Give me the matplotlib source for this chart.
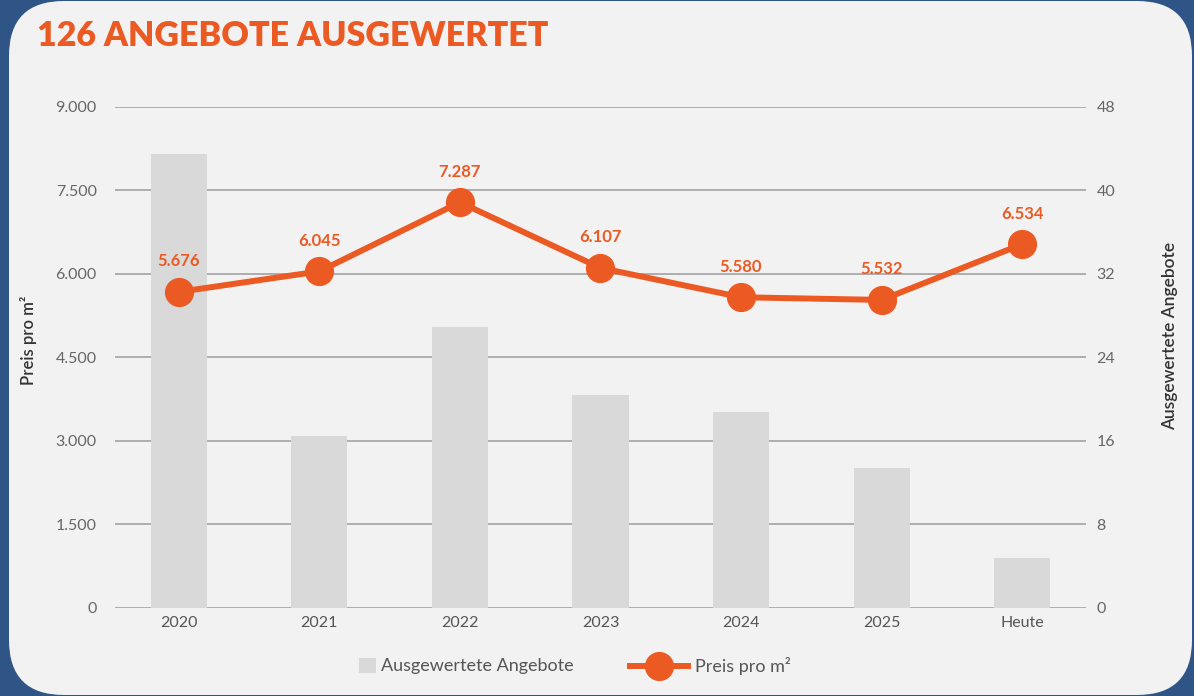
import matplotlib.pyplot as plt
import numpy as np
from matplotlib.patches import FancyBboxPatch, Patch
from matplotlib.lines import Line2D

# data
jahre = ["2020", "2021", "2022", "2023", "2024", "2025", "Heute"]
angebote = [43.5, 16.5, 26.9, 20.4, 18.8, 13.4, 4.8]
preis = [5676, 6045, 7287, 6107, 5580, 5532, 6534]
preis_labels = ["5.676", "6.045", "7.287", "6.107", "5.580", "5.532", "6.534"]
y_left_ticks = [0, 1500, 3000, 4500, 6000, 7500, 9000]
y_left_labels = ["0", "1.500", "3.000", "4.500", "6.000", "7.500", "9.000"]
y_right_ticks = [0, 8, 16, 24, 32, 40, 48]

orange = "#ec5a24"
bar_grey = "#d9d9d9"
card = "#f2f2f2"
tick_col = "#666666"

plt.rcParams['font.family'] = ['Lato', 'DejaVu Sans']

W, H = 1194, 696
fig = plt.figure(figsize=(W / 100, H / 100), dpi=100)
fig.patch.set_facecolor("#2e5585")

# white rounded card
card_patch = FancyBboxPatch((9 + 55, 1 + 55), 1183 - 110, 694 - 110,
                            boxstyle="round,pad=55", transform=None,
                            facecolor=card, edgecolor="none", zorder=-5)
fig.patches.append(card_patch)

fig.text(37 / W, 1 - 36 / H, "126 ANGEBOTE AUSGEWERTET", color=orange,
         fontsize=24.5, fontweight="heavy", ha="left", va="center")

left, right = 114.7 / W, 1085.5 / W
bottom, top = (H - 607.7) / H, (H - 107) / H
ax = fig.add_axes([left, bottom, right - left, top - bottom])
ax2 = ax.twinx()

x = np.arange(len(jahre))

# bars on the right axis, behind the line
ax2.bar(x, angebote, width=0.4, color=bar_grey, zorder=2)
ax2.set_ylim(0, 48)
ax2.set_yticks(y_right_ticks)
ax2.set_axisbelow(True)
ax2.yaxis.grid(True, color="#a8a8a8", linewidth=1.3, zorder=0)
ax2.tick_params(axis="y", length=0, pad=8, labelsize=11.5, labelcolor=tick_col)
ax2.set_ylabel("Ausgewertete Angebote", fontsize=12.5, fontweight="semibold",
               color="#333333", rotation=90, va="center", ha="center")
ax2.yaxis.set_label_coords(1.0868, 0.543)

ax.set_zorder(ax2.get_zorder() + 1)
ax.patch.set_visible(False)
ax.plot(x, preis, color=orange, linewidth=4.3, marker="o", markersize=20,
        solid_capstyle="round")
for xi, yi, lab in zip(x, preis, preis_labels):
    ax.annotate(lab, (xi, yi), xytext=(0, 22), textcoords="offset points",
                ha="center", va="center", color=orange, fontsize=12,
                fontweight="bold")
ax.set_ylim(0, 9000)
ax.set_yticks(y_left_ticks)
ax.set_yticklabels(y_left_labels)
ax.tick_params(axis="y", length=0, pad=13, labelsize=11.5, labelcolor=tick_col)
ax.set_ylabel("Preis pro m²", fontsize=12, fontweight="semibold",
              color="#333333", va="center", ha="center")
ax.yaxis.set_label_coords(-0.0893, 0.535)

ax.set_xlim(-0.455, 6.45)
ax.set_xticks(x)
ax.set_xticklabels(jahre)
ax.tick_params(axis="x", length=0, pad=6, labelsize=11.5, labelcolor="#555555")

for a in (ax, ax2):
    for s in a.spines.values():
        s.set_visible(False)

# legends
leg1 = fig.legend(handles=[Patch(facecolor=bar_grey, edgecolor="none")],
                  labels=["Ausgewertete Angebote"], loc="center left",
                  bbox_to_anchor=(343 / W, 30 / H), frameon=False,
                  fontsize=13, handlelength=0.9, handleheight=0.9,
                  handletextpad=0.3, labelcolor="#555555")
leg2 = fig.legend(handles=[Line2D([], [], color=orange, linewidth=4.3,
                                  marker="o", markersize=20)],
                  labels=["Preis pro m²"], loc="center left",
                  bbox_to_anchor=(614 / W, 30 / H), frameon=False,
                  fontsize=13, handlelength=3.2, handletextpad=0.4,
                  labelcolor="#555555")

fig.savefig("out.png", dpi=100, facecolor=fig.get_facecolor())
